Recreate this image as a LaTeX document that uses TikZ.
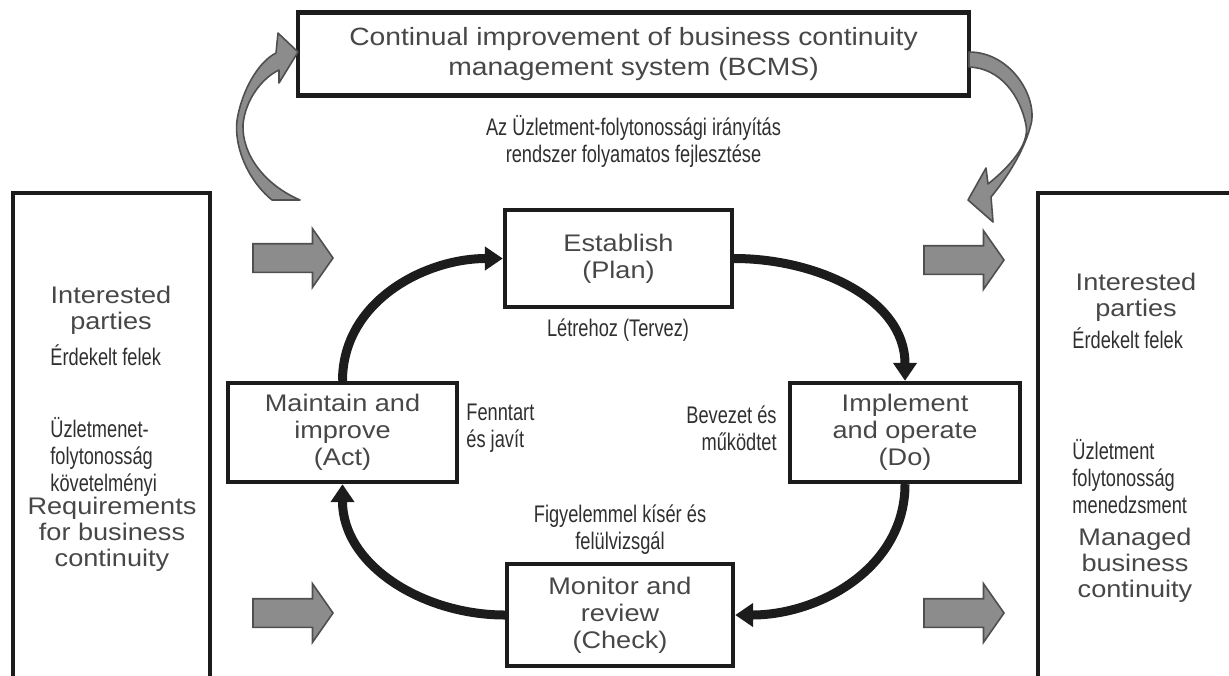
\documentclass[tikz,border=0pt]{standalone}
\usepackage{fontspec}
\setmainfont{Liberation Sans}[FakeStretch=1.13]
\newfontfamily\narrowfont{Liberation Sans}[FakeStretch=0.76]
\usepackage{tikz}
\usetikzlibrary{positioning, calc, arrows.meta, shapes.arrows}
\definecolor{textgray}{HTML}{474747}
\definecolor{hugray}{HTML}{2F2F2F}
\definecolor{boxline}{HTML}{1C1C1C}
\definecolor{arrowfill}{HTML}{8C8C8C}
\definecolor{arrowline}{HTML}{4F4F4F}
\tikzset{>={Triangle[length=9pt,width=11.5pt]}}
\tikzset{stage/.style={draw=boxline, line width=2.2pt, align=center, text=textgray,
    font=\fontsize{12}{13.5}\selectfont, inner sep=0pt}}
\tikzset{sidebox/.style={draw=boxline, line width=2.4pt, inner sep=0pt}}
\tikzset{en/.style={text=textgray, align=center, inner sep=0pt,
    font=\fontsize{12}{13}\selectfont}}
\tikzset{hu/.style={text=hugray, align=center, inner sep=0pt,
    font=\narrowfont\fontsize{12}{13.5}\selectfont}}
\tikzset{pdca/.style={->, line width=4.5pt, draw=boxline}}
\tikzset{blockarrow/.style={single arrow, draw=arrowline, fill=arrowfill, line width=0.8pt,
    inner sep=0pt, inner ysep=6.75pt, minimum height=40pt, minimum width=28.5pt,
    single arrow head extend=7.5pt, single arrow tip angle=110}}
\tikzset{bentarrow/.style={draw=arrowline, fill=arrowfill, line width=0.8pt, line join=round}}

\begin{document}
\begin{tikzpicture}[x=0.5pt, y=-0.5pt]
    \useasboundingbox (0,0) rectangle (1229,675);

    % improvement loop on top
    \node[stage, font=\fontsize{12.5}{15}\selectfont, minimum width=335.5pt, minimum height=41.5pt]
    (bcms) at (633.5,54) {Continual improvement of business continuity\\management system (BCMS)};
    \node[hu] (bcms-hu) at (633.5,141) {Az Üzletment-folytonossági irányítás\\rendszer folyamatos fejlesztése};

    \draw[bentarrow] (300,200) -- (272,200) .. controls (245,178) and (232,140) .. (238,115)
        .. controls (243,90) and (258,62) .. (276,53) -- (278,33) -- (298,52) -- (279,83) -- (279,70)
        .. controls (262,78) and (245,100) .. (243,125) .. controls (242,155) and (265,185) .. (300,200) -- cycle;
    \draw[bentarrow] (969,52) .. controls (1012,52) and (1040,100) .. (1030,128)
        .. controls (1022,155) and (1005,180) .. (991,197) -- (993,222) -- (968,200) -- (986,168) -- (988,184)
        .. controls (1008,168) and (1030,145) .. (1026,125) .. controls (1020,95) and (1000,68) .. (969,67) -- cycle;

    % interested parties
    \node[sidebox, minimum width=98.5pt, minimum height=250pt] (lside) at (111.5,443) {};
    \node[en] (lside-int) at (111,310) {Interested\\parties};
    \node[hu, anchor=west] (lside-fel) at (50,355) {Érdekelt felek};
    \node[hu, align=left, anchor=west] (lside-hu) at (50,457) {Üzletmenet-\\folytonosság\\követelményi};
    \node[en] (lside-req) at (112,534) {Requirements\\for business\\continuity};

    \node[sidebox, minimum width=101pt, minimum height=250pt] (rside) at (1139,443) {};
    \node[en] (rside-int) at (1136,297) {Interested\\parties};
    \node[hu, anchor=west] (rside-fel) at (1072,338) {Érdekelt felek};
    \node[hu, align=left, anchor=west] (rside-hu) at (1072,477) {Üzletment\\folytonosság\\menedzsment};
    \node[en] (rside-man) at (1135,565) {Managed\\business\\continuity};

    \node[blockarrow] (in-top) at (288,258) {};
    \node[blockarrow] (in-bot) at (288,613) {};
    \node[blockarrow] (out-top) at (959,260) {};
    \node[blockarrow] (out-bot) at (959,613) {};

    % PDCA
    \node[stage, minimum width=113.5pt, minimum height=48.5pt] (plan) at (618.5,258.5) {Establish\\(Plan)};
    \node[stage, minimum width=115pt, minimum height=49.5pt] (do) at (905,432.5) {Implement\\and operate\\(Do)};
    \node[stage, minimum width=113pt, minimum height=51pt] (check) at (620,615) {Monitor and\\review\\(Check)};
    \node[stage, minimum width=114.5pt, minimum height=49.5pt] (act) at (342.5,432.5) {Maintain and\\improve\\(Act)};

    \node[hu] (plan-hu) at (618,330) {Létrehoz (Tervez)};
    \node[hu, align=right, anchor=east] (do-hu) at (777,428) {Bevezet és\\működtet};
    \node[hu, align=left, anchor=west] (act-hu) at (466,428) {Fenntart\\és javít};
    \node[hu] (check-hu) at (620,530) {Figyelemmel kísér és\\felülvizsgál};

    \draw[pdca] (act.north) to[out=90, in=180] (plan.west);
    \draw[pdca] (plan.east) to[out=0, in=90] (do.north);
    \draw[pdca] (do.south) to[out=-90, in=0] (check.east);
    \draw[pdca] (check.west) to[out=180, in=-90] (act.south);
\end{tikzpicture}
\end{document}
